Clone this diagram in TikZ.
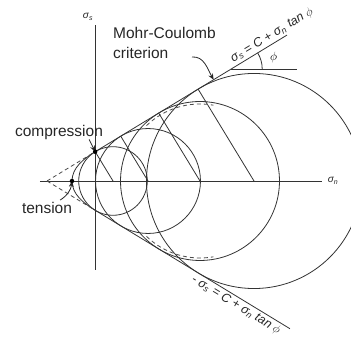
\documentclass[tikz,border=0pt]{standalone}
\usepackage{fontspec}
\setmainfont{Liberation Sans}
\usetikzlibrary{calc, arrows.meta}

\begin{document}
\begin{tikzpicture}[x=1pt, y=1pt,
  curve/.style={draw=black!80, line width=0.8pt},
  guide/.style={draw=black!70, line width=0.8pt, dash pattern=on 4pt off 3pt},
  label/.style={font=\fontsize{15.5}{20}\selectfont, inner sep=0pt, text=black!85, align=left},
  law/.style={font=\fontsize{12.5}{14}\selectfont\itshape, inner sep=2pt, text=black!85},
  axislbl/.style={font=\fontsize{10}{12}\selectfont\itshape, inner sep=0pt, text=black!85},
  pointer/.style={draw=black!85, line width=0.8pt, -{Stealth[length=6pt,width=5pt]}},
  dot/.style={circle, fill=black, inner sep=0pt, minimum size=4.5pt},
]
\def\ang{31.3}
\useasboundingbox (-95,-166) rectangle (256,181);
\clip (-95,-166) rectangle (256,181);

% axes
\coordinate (xL) at (-55,0);
\coordinate (xR) at (227,0);
\coordinate (yT) at (0,156);
\coordinate (yB) at (0,-89);
\draw[curve] (xL) -- (xR);
\draw[curve] (yB) -- (yT);
\node[axislbl] (sigN) at (238,0) {σ\textsubscript{n}};
\node[axislbl] (sigS) at (-7,164) {σ\textsubscript{s}};

% apex and tangent points
\coordinate (A) at (-48,0);
\coordinate (T) at (-23,0);
\coordinate (c1) at (18,0);
\coordinate (c2) at (53,0);
\coordinate (c3) at (105,0);
\coordinate (c4) at (159,0);
\coordinate (t1) at ($(A)+(\ang:{66*cos(\ang)})$);
\coordinate (t2) at ($(A)+(\ang:{101*cos(\ang)})$);
\coordinate (t3) at ($(A)+(\ang:{153*cos(\ang)})$);
\coordinate (t4) at ($(A)+(\ang:{207*cos(\ang)})$);
\coordinate (b1) at ($(A)+(-\ang:{66*cos(\ang)})$);
\coordinate (upEnd) at ($(A)+(\ang:280.9)$);
\coordinate (loEnd) at ($(A)+(-\ang:284.4)$);
\coordinate (crit) at ($(A)+(\ang:195)$);
\coordinate (phiO) at ($(A)+(\ang:215.6)$);

% Mohr circles
\draw[curve] (c1) circle[radius={66*sin(\ang)}];
\draw[curve] (c2) circle[radius={101*sin(\ang)}];
\draw[curve] (c3) circle[radius={153*sin(\ang)}];
\draw[curve] (c4) circle[radius={207*sin(\ang)}];
\draw[curve] (c1) -- (t1);
\draw[curve] (c2) -- (t2);
\draw[curve] (c3) -- (t3);
\draw[curve] (c4) -- (t4);

% envelope
\draw[curve] (upEnd) -- (t1)
  .. controls ($(t1)+(180+\ang:14)$) and (-23,13) .. (T)
  .. controls (-23,-13) and ($(b1)+(180-\ang:14)$) .. (b1) -- (loEnd);
\draw[guide] (A) -- (t1);
\draw[guide] (A) -- (b1);
\draw[guide] (c3) ++(134:77) arc[start angle=134, end angle=80, radius=77];
\draw[guide] (c3) ++(-134:77) arc[start angle=-134, end angle=-80, radius=77];

% friction angle
\coordinate (phiE) at ($(phiO)+(66,0)$);
\draw[curve] (phiO) -- (phiE);
\draw[curve] ($(phiO)+(31,0)$) arc[start angle=0, end angle=\ang, radius=31];
\node[font=\fontsize{12}{14}\selectfont, inner sep=0pt] (phiLbl) at ($(phiO)+(\ang/2:44)$) {$\phi$};

% laws
\node[law, anchor=south, rotate=\ang] (lawUp) at ($(A)+(\ang:268)$)
  {σ\textsubscript{s} = C + σ\textsubscript{n} tan $\phi$};
\node[law, anchor=north, rotate=-\ang] (lawDown) at ($(A)+(-\ang:226)$)
  {- σ\textsubscript{s} = C + σ\textsubscript{n} tan $\phi$};

% labels
\node[label, anchor=west] (mohr) at (18,138) {Mohr-Coulomb\\criterion};
\coordinate (mohrTail) at (97,124);
\draw[pointer] (mohrTail) to[out=5, in=120] (crit);
\node[label] (comp) at (-36,49) {compression};
\draw[pointer] ([xshift=-14pt]comp.south east) -- (t1);
\node[label] (tens) at (-48,-27) {tension};
\draw[pointer] ([xshift=-12pt,yshift=2pt]tens.north east) to[bend right=25] (T);
\node[dot] (dotC) at (t1) {};
\node[dot] (dotT) at (T) {};
\end{tikzpicture}
\end{document}
